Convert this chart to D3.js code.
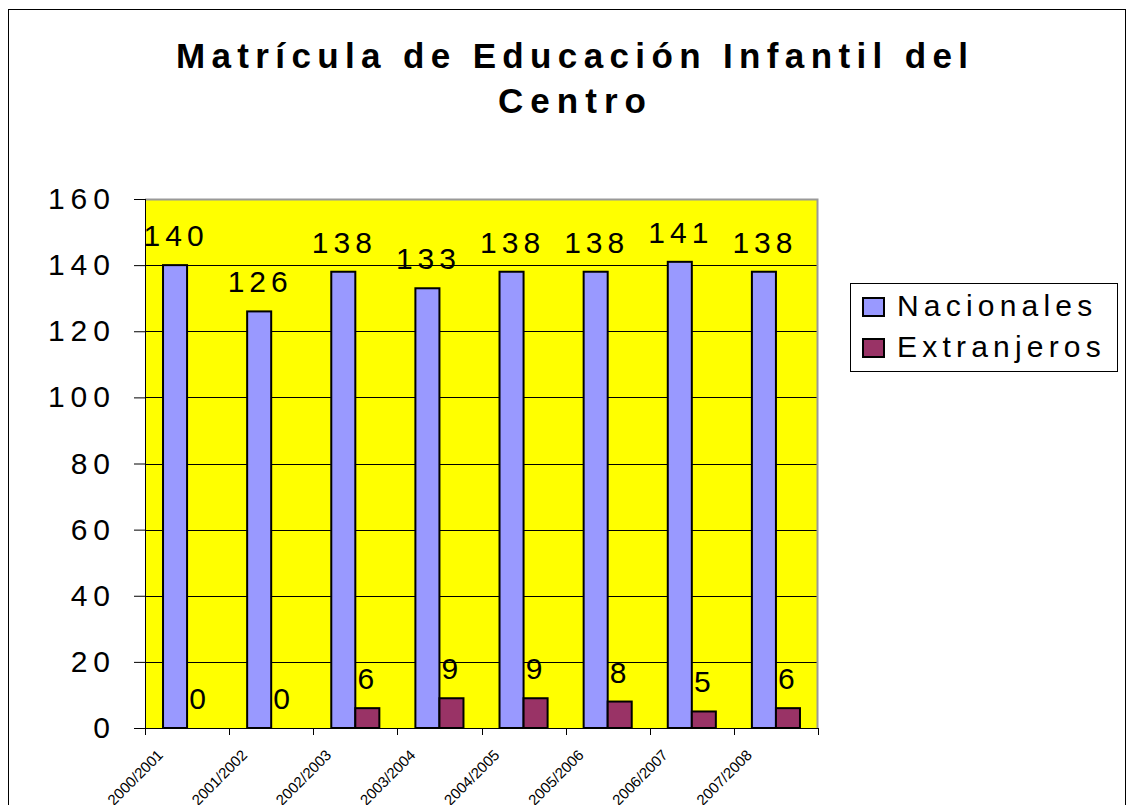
<!DOCTYPE html>
<meta charset="utf-8">
<body>
<script src="https://cdn.jsdelivr.net/npm/d3@7"></script>
<style>
    html, body {
        margin: 0;
        background: #fff;
    }
    text {
        font-family: "Liberation Sans", Arial, sans-serif;
    }
</style>
<script>
var years = ["2000/2001", "2001/2002", "2002/2003", "2003/2004", "2004/2005", "2005/2006", "2006/2007", "2007/2008"],
    series = ["Nacionales", "Extranjeros"],
    nacionales = [140, 126, 138, 133, 138, 138, 141, 138],
    extranjeros = [0, 0, 6, 9, 9, 8, 5, 6],
    yTicks = [0, 20, 40, 60, 80, 100, 120, 140, 160],
    colors = ["#9999ff", "#993366"],
    titleLines = ["Matrícula de Educación Infantil del", "Centro"];

var width = 1127,
    height = 805,
    plot = {left: 145, right: 818, top: 199, bottom: 728};

var rows = years.map(function(y, i) {
    return {year: y, values: [nacionales[i], extranjeros[i]]};
});

var svg = d3.select("body").append("svg")
    .attr("width", width)
    .attr("height", height);

// chart frame
svg.append("rect")
    .attr("x", 8.5).attr("y", 9.5)
    .attr("width", 1117).attr("height", 820)
    .attr("fill", "#fff")
    .attr("stroke", "#000");

// title
svg.append("g").selectAll("text")
    .data(titleLines)
    .enter().append("text")
    .attr("x", 572)
    .attr("y", function(d, i) { return 68 + i * 45; })
    .attr("text-anchor", "middle")
    .attr("font-size", 35)
    .attr("font-weight", "bold")
    .attr("textLength", function(d, i) { return i ? 148 : 792; })
    .attr("lengthAdjust", "spacing")
    .text(function(d) { return d; });

var x = d3.scaleBand()
    .domain(years)
    .range([plot.left, plot.right]);

var x1 = d3.scaleBand()
    .domain(series)
    .range([0, x.bandwidth()])
    .paddingOuter(0.75);

var y = d3.scaleLinear()
    .domain([0, 160])
    .range([plot.bottom, plot.top]);

// plot area
svg.append("rect")
    .attr("x", plot.left).attr("y", plot.top)
    .attr("width", plot.right - plot.left)
    .attr("height", plot.bottom - plot.top)
    .attr("fill", "#ffff00");

svg.append("g").selectAll("line")
    .data(yTicks.filter(function(d) { return d > 0 && d < 160; }))
    .enter().append("line")
    .attr("x1", plot.left).attr("x2", plot.right)
    .attr("y1", function(d) { return Math.round(y(d)) + 0.5; })
    .attr("y2", function(d) { return Math.round(y(d)) + 0.5; })
    .attr("stroke", "#000");

svg.append("path")
    .attr("d", "M" + plot.left + "," + (plot.top + 0.5) + "H" + (plot.right - 0.5) + "V" + plot.bottom)
    .attr("fill", "none")
    .attr("stroke", "#999")
    .attr("stroke-width", 2);

// bars
var group = svg.append("g").selectAll("g")
    .data(rows)
    .enter().append("g")
    .attr("transform", function(d) { return "translate(" + x(d.year) + ",0)"; });

group.selectAll("rect")
    .data(function(d) { return d.values.map(function(v, i) { return {s: series[i], v: v, i: i}; }); })
    .enter().append("rect")
    .attr("x", function(d) { return x1(d.s); })
    .attr("y", function(d) { return y(d.v); })
    .attr("width", x1.bandwidth())
    .attr("height", function(d) { return y(0) - y(d.v); })
    .attr("fill", function(d) { return colors[d.i]; })
    .attr("stroke", "#000")
    .attr("stroke-width", 2);

group.selectAll("text")
    .data(function(d) { return d.values.map(function(v, i) { return {s: series[i], v: v}; }); })
    .enter().append("text")
    .attr("x", function(d) { return x1(d.s) + x1.bandwidth() / 2 + 1; })
    .attr("y", function(d) { return y(d.v) - 19; })
    .attr("text-anchor", "middle")
    .attr("font-size", 30)
    .style("letter-spacing", "5px")
    .text(function(d) { return d.v; });

// y axis
var yAxis = svg.append("g")
    .attr("transform", "translate(" + plot.left + ",0)")
    .call(d3.axisLeft(y).tickValues(yTicks).tickSize(11).tickPadding(18));
yAxis.select(".domain").remove();
yAxis.selectAll(".tick line").attr("stroke", "#000");
yAxis.selectAll(".tick text")
    .attr("font-size", 30)
    .attr("font-family", "Liberation Sans, Arial, sans-serif")
    .attr("fill", "#000")
    .style("letter-spacing", "6px");
svg.append("line")
    .attr("x1", plot.left + 0.5).attr("x2", plot.left + 0.5)
    .attr("y1", plot.top).attr("y2", plot.bottom)
    .attr("stroke", "#000");

// x axis
var xAxis = svg.append("g")
    .attr("transform", "translate(0," + plot.bottom + ")");
xAxis.append("line")
    .attr("x1", plot.left).attr("x2", plot.right)
    .attr("y1", 0.5).attr("y2", 0.5)
    .attr("stroke", "#000");
xAxis.selectAll("line.tick")
    .data(years.concat(["end"]))
    .enter().append("line")
    .attr("class", "tick")
    .attr("x1", function(d, i) { return Math.round(plot.left + i * x.step()) + 0.5; })
    .attr("x2", function(d, i) { return Math.round(plot.left + i * x.step()) + 0.5; })
    .attr("y1", 0).attr("y2", 7)
    .attr("stroke", "#000");
xAxis.selectAll("text")
    .data(years)
    .enter().append("text")
    .attr("transform", function(d) { return "translate(" + (x(d) + 19) + ",28) rotate(-45)"; })
    .attr("text-anchor", "end")
    .attr("font-size", 15)
    .text(function(d) { return d; });

// legend
var legend = svg.append("g");
legend.append("rect")
    .attr("x", 850.5).attr("y", 283.5)
    .attr("width", 267).attr("height", 88)
    .attr("fill", "#fff")
    .attr("stroke", "#000");
var item = legend.selectAll("g")
    .data(series)
    .enter().append("g")
    .attr("transform", function(d, i) { return "translate(0," + (i * 41) + ")"; });
item.append("rect")
    .attr("x", 863).attr("y", 298)
    .attr("width", 21).attr("height", 18)
    .attr("fill", function(d, i) { return colors[i]; })
    .attr("stroke", "#000")
    .attr("stroke-width", 2);
item.append("text")
    .attr("x", 897).attr("y", 316)
    .attr("font-size", 30)
    .style("letter-spacing", "5.2px")
    .text(function(d) { return d; });
</script>
